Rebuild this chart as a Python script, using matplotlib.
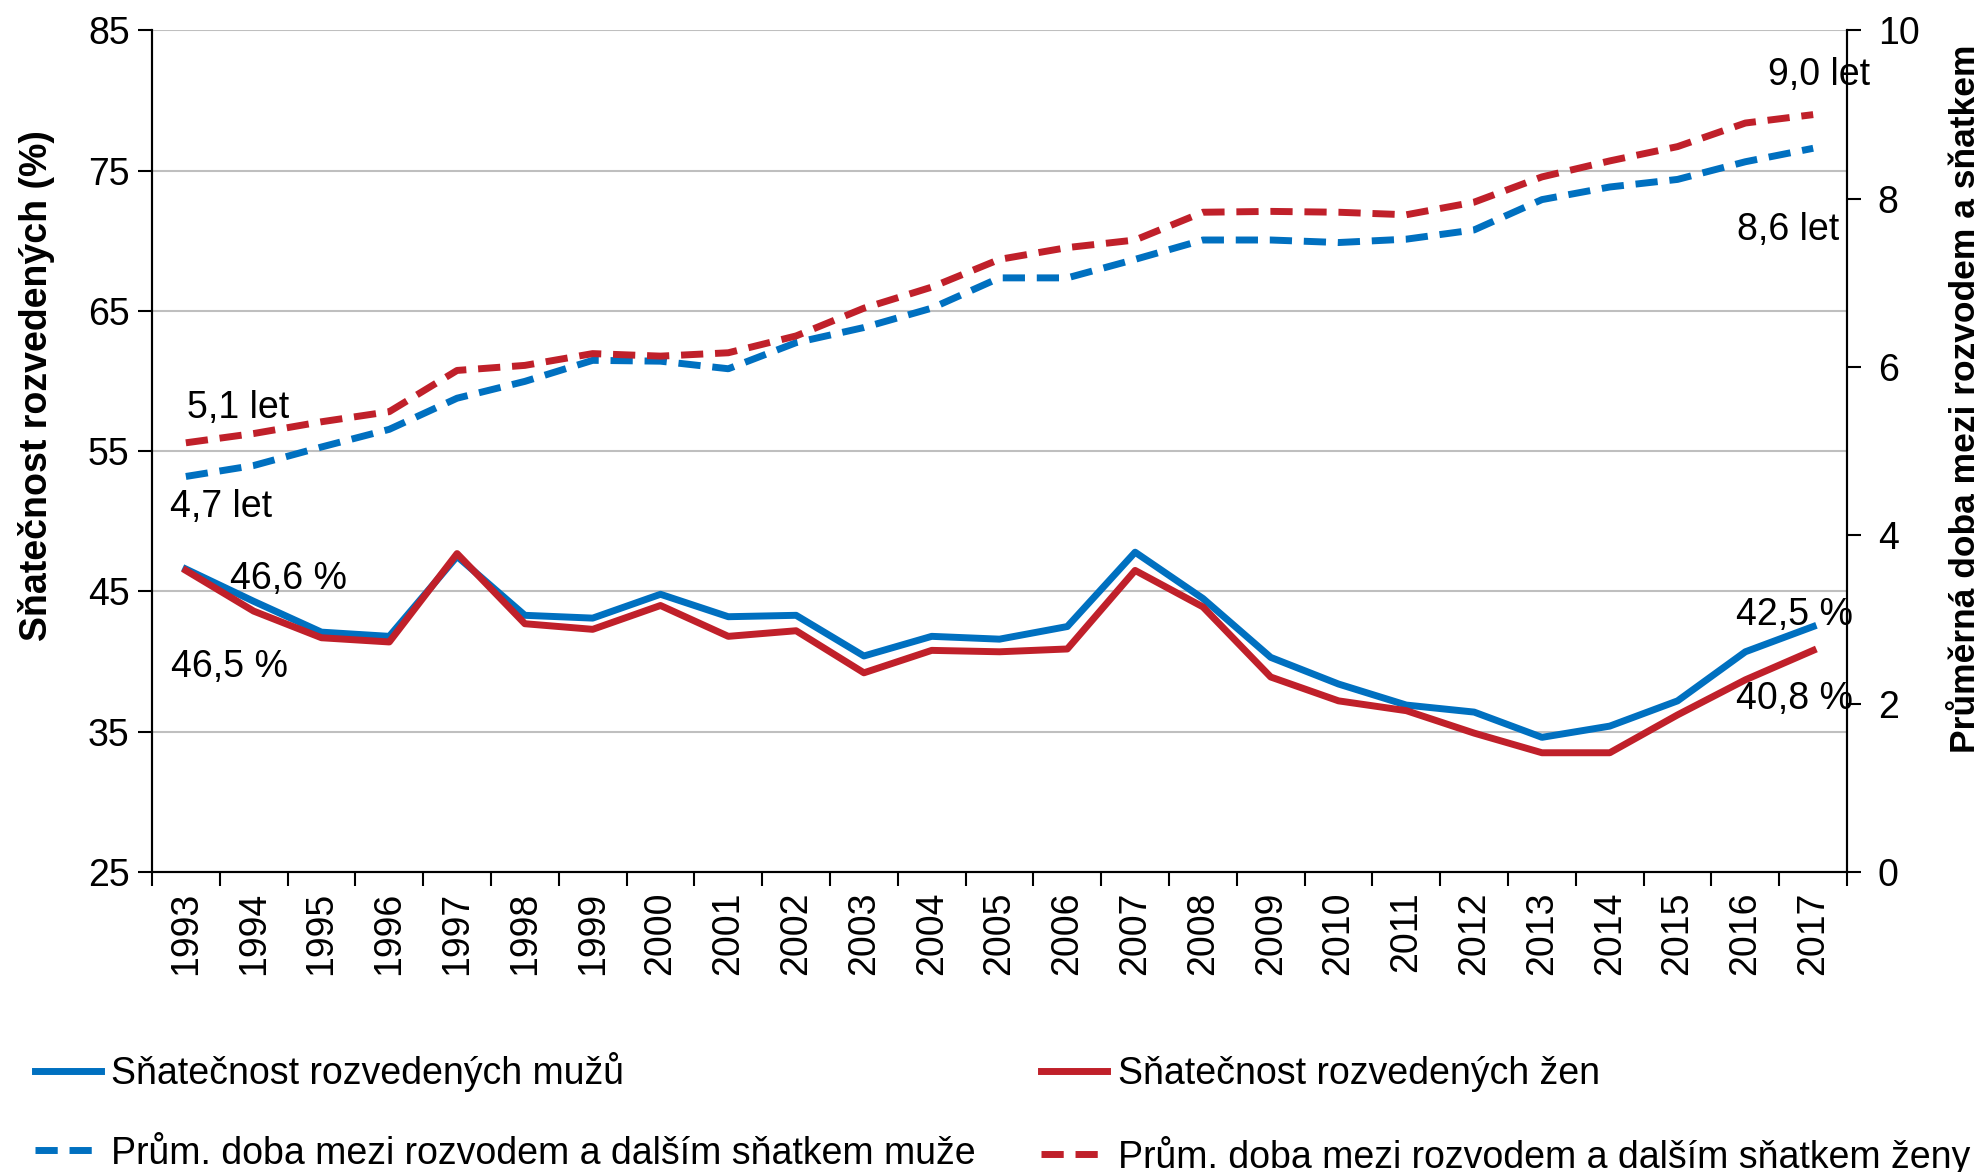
import matplotlib
matplotlib.use("Agg")
import matplotlib.pyplot as plt
import numpy as np

# ---------------------------------------------------------------------------
# Data
# ---------------------------------------------------------------------------

years = [str(y) for y in range(1993, 2018)]

# Sňatečnost rozvedených (%) – left axis
rate_men = [46.6, 44.3, 42.1, 41.8, 47.5, 43.3, 43.1, 44.8, 43.2, 43.3,
            40.4, 41.8, 41.6, 42.5, 47.8, 44.5, 40.3, 38.4, 36.9, 36.4,
            34.6, 35.4, 37.2, 40.7, 42.5]
rate_women = [46.5, 43.6, 41.7, 41.4, 47.7, 42.7, 42.3, 44.0, 41.8, 42.2,
              39.2, 40.8, 40.7, 40.9, 46.5, 43.9, 38.9, 37.2, 36.5, 34.9,
              33.5, 33.5, 36.2, 38.7, 40.8]

# Průměrná doba mezi rozvodem a dalším sňatkem (roky) – right axis
gap_men = [4.7, 4.83, 5.05, 5.26, 5.63, 5.83, 6.08, 6.07, 5.98, 6.29,
           6.47, 6.70, 7.06, 7.06, 7.28, 7.51, 7.51, 7.48, 7.52, 7.63,
           7.99, 8.14, 8.23, 8.44, 8.6]
gap_women = [5.1, 5.21, 5.35, 5.47, 5.96, 6.02, 6.16, 6.13, 6.17, 6.37,
             6.70, 6.95, 7.28, 7.42, 7.51, 7.84, 7.85, 7.84, 7.81, 7.96,
             8.26, 8.45, 8.62, 8.90, 9.0]

labels = [
    "Sňatečnost rozvedených mužů",
    "Sňatečnost rozvedených žen",
    "Prům. doba mezi rozvodem a dalším sňatkem muže",
    "Prům. doba mezi rozvodem a dalším sňatkem ženy",
]

BLUE = "#0070C0"
RED = "#C0202A"
FS = 27

plt.rcParams["font.family"] = ["Liberation Sans", "DejaVu Sans"]

fig = plt.figure(figsize=(19.81, 11.72), dpi=100)
ax = fig.add_axes([0.0767, 0.256, 0.8557, 0.718])
ax2 = ax.twinx()

x = np.arange(len(years))

l1, = ax.plot(x, rate_men, color=BLUE, lw=5, zorder=3)
l2, = ax.plot(x, rate_women, color=RED, lw=5, zorder=3)
l3, = ax2.plot(x, gap_men, color=BLUE, lw=5, dashes=(3.2, 1.7))
l4, = ax2.plot(x, gap_women, color=RED, lw=5, dashes=(3.2, 1.7))

# left axis
ax.set_xlim(-0.5, len(years) - 0.5)
ax.set_ylim(25, 85)
ax.set_yticks(np.arange(25, 86, 10))
ax.yaxis.grid(True, color="#BFBFBF", lw=1.5)
ax.set_axisbelow(True)
ax.tick_params(axis="y", direction="out", length=10, width=1.5, labelsize=FS, pad=6)
ax.set_ylabel("Sňatečnost rozvedených (%)", fontsize=27, fontweight="bold")
ax.yaxis.set_label_coords(-0.057, 0.578)

# x axis: labels at centres, tick marks between categories
ax.set_xticks(x)
ax.set_xticklabels(years, rotation=90, fontsize=FS)
ax.set_xticks(np.arange(-0.5, len(years)), minor=True)
ax.tick_params(axis="x", which="major", length=0, pad=14)
ax.tick_params(axis="x", which="minor", direction="out", length=10, width=1.5)

# right axis
ax2.set_ylim(0, 10)
ax2.set_yticks(np.arange(0, 11, 2))
ax2.tick_params(axis="y", direction="out", length=10, width=1.5, labelsize=FS, pad=12)
ax2.set_ylabel("Průměrná doba mezi rozvodem a sňatkem", fontsize=25.5,
               fontweight="bold")
ax2.yaxis.set_label_coords(1.060, 0.562)

for a in (ax, ax2):
    for side in ("left", "right", "bottom"):
        a.spines[side].set_linewidth(1.5)
    a.spines["top"].set_visible(False)

# value labels
ann = dict(fontsize=FS, ha="center", va="center")
ax.text(0.77, 58.1, "5,1 let", **ann)
ax.text(0.52, 51.0, "4,7 let", **ann)
ax.text(1.51, 45.9, "46,6 %", **ann)
ax.text(0.64, 39.6, "46,5 %", **ann)
ax.text(24.09, 81.8, "9,0 let", **ann)
ax.text(23.63, 70.8, "8,6 let", **ann)
ax.text(23.73, 43.3, "42,5 %", **ann)
ax.text(23.73, 37.3, "40,8 %", **ann)

# legend: row 1 solid lines, row 2 dashed lines
fig.legend([l1, l3, l2, l4], [labels[0], labels[2], labels[1], labels[3]],
           loc="lower left", ncol=2, bbox_to_anchor=(0.0177, -0.003),
           frameon=False, fontsize=FS, borderpad=0, borderaxespad=0,
           handlelength=1.76, handletextpad=0.27, columnspacing=1.75,
           labelspacing=1.15)

fig.savefig("out.png", dpi=100)
